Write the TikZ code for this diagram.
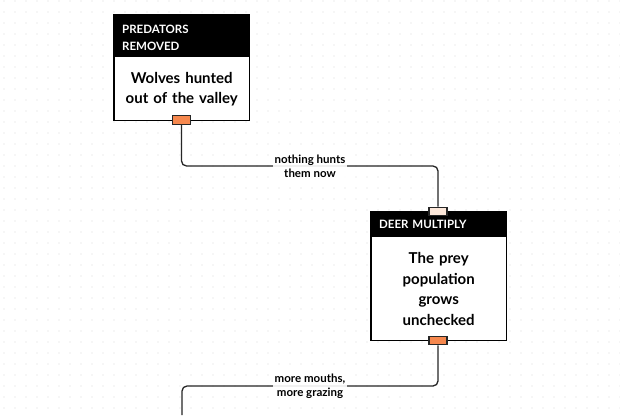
\documentclass[tikz,border=0pt]{standalone}
\usepackage{fontspec}
\setmainfont{Lato}
\definecolor{portor}{RGB}{246,136,78}
\definecolor{portpe}{RGB}{253,232,218}
\begin{document}
\begin{tikzpicture}[x=1pt,y=-1pt,
  hdr/.style={fill=black, text=white, font=\bfseries\fontsize{11.5}{17}\selectfont, align=left, text width=119pt, inner xsep=8pt, inner ysep=0pt, anchor=north west},
  bodytext/.style={fill=white, font=\bfseries\fontsize{15}{20.5}\selectfont, align=center, text width=135pt, inner sep=0pt, anchor=north},
  frame/.style={draw=black, line width=1.3pt},
  port/.style={draw=black!85, line width=1.1pt, minimum width=18pt, minimum height=8.5pt, inner sep=0pt},
  conn/.style={draw=black!85, line width=1.3pt, rounded corners=5pt},
  lbl/.style={fill=white, fill opacity=0.9, text opacity=1, font=\bfseries\fontsize{11.5}{13.5}\selectfont, align=center, inner sep=1.5pt}
]
\useasboundingbox (0,0) rectangle (620,415);
\fill[white] (0,0) rectangle (620,415);
% dot grid
\foreach \i in {0,...,56} {\foreach \j in {0,...,37} {
  \fill[black!14] (4+\i*11, 1+\j*11) circle (0.55pt);
}}
% box 1
\node[hdr, minimum height=42pt] (h1) at (114,15) {\rule{0pt}{12.5pt}PREDATORS\\REMOVED};
\node[bodytext, minimum height=63pt] (b1) at (h1.south) {Wolves hunted\\out of the valley};
\draw[frame] (h1.north west) rectangle (b1.south east);
% box 2
\node[hdr, minimum height=25pt] (h2) at (371,212) {DEER MULTIPLY};
\node[bodytext, minimum height=103pt] (b2) at (h2.south) {The prey\\population\\grows\\unchecked};
\draw[frame] (h2.north west) rectangle (b2.south east);
% ports
\node[port, fill=portor] (p1) at (181.5,120) {};
\node[port, fill=portpe] (p2) at (438,211.5) {};
\node[port, fill=portor] (p3) at (438,340.5) {};
% connectors
\coordinate (y1) at (0,166);
\coordinate (y2) at (0,386);
\coordinate (e1) at (182,415);
\draw[conn] (p1.south) -- (p1.south |- y1) -- (p2.north |- y1) -- (p2.north);
\draw[conn] (p3.south) -- (p3.south |- y2) -- (e1 |- y2) -- (e1);
\node[lbl] (l1) at (310,166.5) {nothing hunts\\them now};
\node[lbl] (l2) at (310,386.5) {more mouths,\\more grazing};
\end{tikzpicture}
\end{document}
